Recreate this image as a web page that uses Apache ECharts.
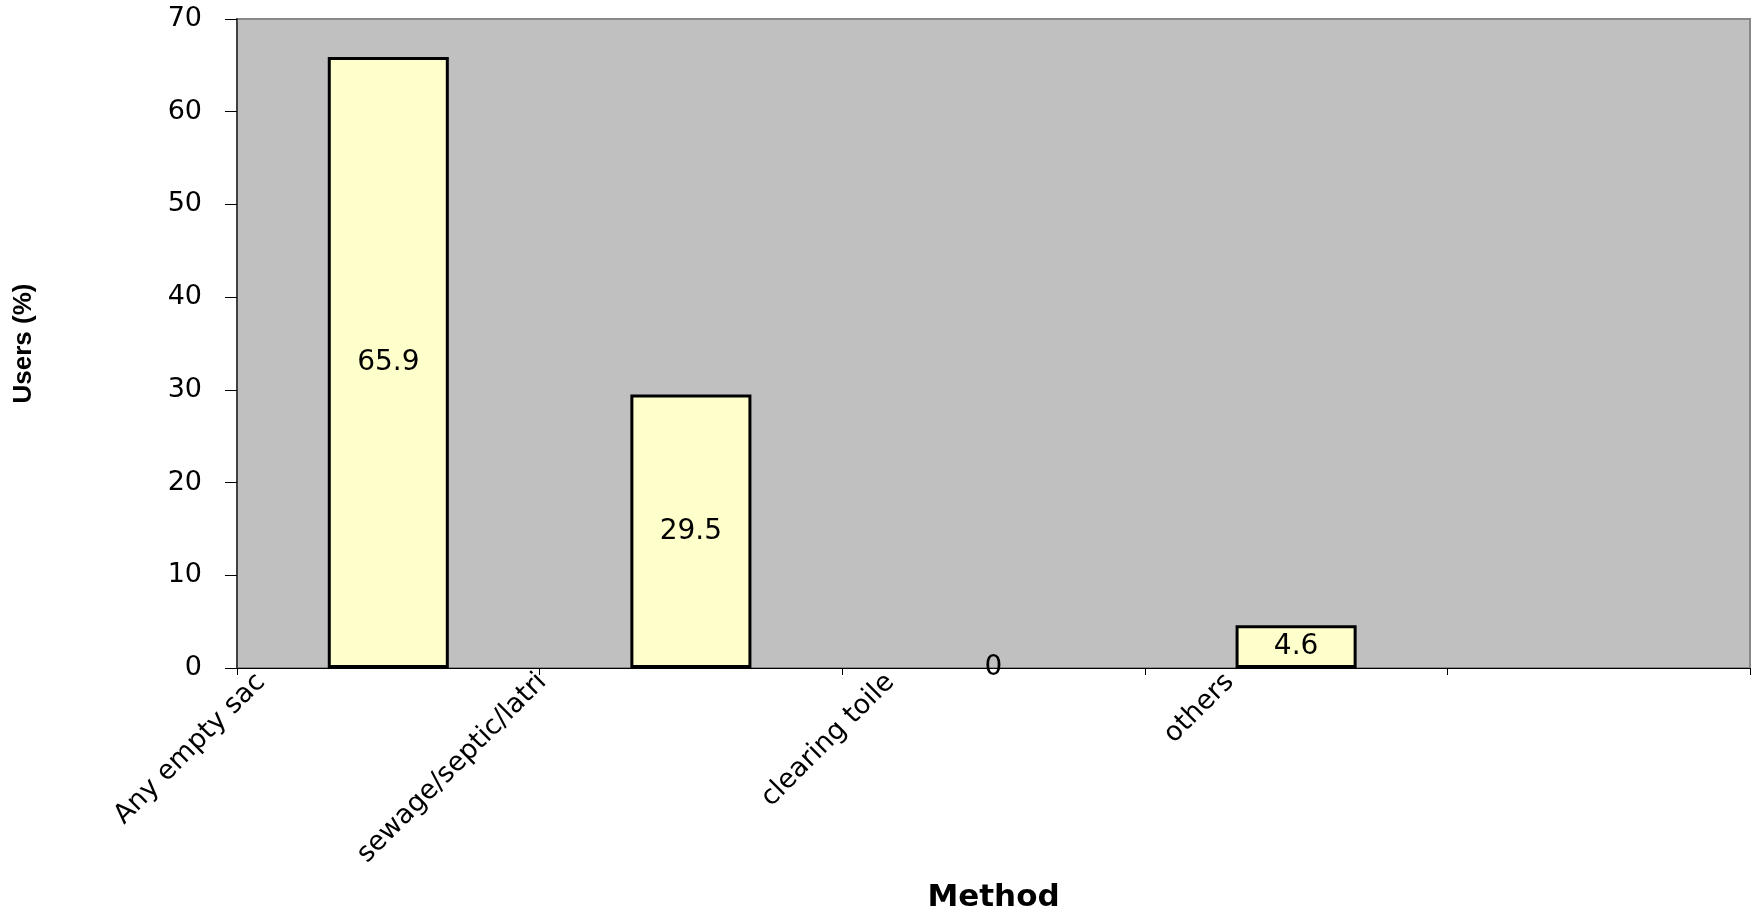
<!DOCTYPE html>
<html>
<head>
<meta charset="utf-8">
<script src="https://cdn.jsdelivr.net/npm/echarts@6/dist/echarts.min.js"></script>
<style>
html,body{margin:0;padding:0;background:#fff;}
#c{width:1758px;height:908px;}
</style>
</head>
<body>
<div id="c"></div>
<script>
const categories = ['Any empty sac', 'sewage/septic/latri', 'clearing toile', 'others', ''];
const usersPct = [65.9, 29.5, 0, 4.6, null];
const yTicks = [0, 10, 20, 30, 40, 50, 60, 70];
const yAxisName = 'Users (%)';
const xAxisName = 'Method';

// per-label horizontal shift of the rotated category labels (px)
const labelShift = [127, 149, 103, 67];
const rich = {};
labelShift.forEach((s, i) => {
  const p = Math.round(s / 1.414);
  rich['a' + i] = { padding: [0, p, 2 * p, 0], fontFamily: 'DejaVu Sans', fontSize: 27, color: '#000' };
});

const chart = echarts.init(document.getElementById('c'), null, { renderer: 'canvas' });
chart.setOption({
  animation: false,
  backgroundColor: '#ffffff',
  grid: {
    left: 237, right: 8, top: 19, bottom: 240,
    outerBoundsMode: 'none',
    containLabel: false,
    show: true, backgroundColor: '#C0C0C0', borderColor: '#888888', borderWidth: 2
  },
  xAxis: {
    type: 'category',
    data: categories,
    name: xAxisName,
    nameLocation: 'middle',
    nameGap: 214,
    nameTextStyle: { fontFamily: 'DejaVu Sans', fontWeight: 'bold', fontSize: 31, color: '#000' },
    axisLine: { show: true, lineStyle: { color: '#000', width: 1 } },
    axisTick: { show: true, length: 7, lineStyle: { color: '#000' } },
    axisLabel: {
      interval: 0,
      rotate: 45,
      margin: 10,
      formatter: (v, i) => v ? '{a' + i + '|' + v + '}' : '',
      rich: rich
    },
    splitLine: { show: false }
  },
  yAxis: {
    type: 'value',
    min: yTicks[0],
    max: yTicks[yTicks.length - 1],
    interval: 10,
    name: yAxisName,
    nameLocation: 'middle',
    nameRotate: 90,
    nameGap: 200,
    nameTextStyle: { fontFamily: 'Liberation Sans', fontWeight: 'bold', fontSize: 26, color: '#000' },
    axisLine: { show: true, lineStyle: { color: '#404040', width: 2 } },
    axisTick: { show: true, length: 12, lineStyle: { color: '#000' } },
    axisLabel: { margin: 35, fontFamily: 'DejaVu Sans', fontSize: 27, color: '#000' },
    splitLine: { show: false }
  },
  series: [{
    type: 'bar',
    barWidth: '40%',
    data: usersPct.map(v => v === 0 ? { value: v, itemStyle: { borderWidth: 0 } } : v),
    itemStyle: { color: '#FFFFCC', borderColor: '#000', borderWidth: 3 },
    label: {
      show: true,
      position: 'inside',
      fontFamily: 'DejaVu Sans',
      fontSize: 28,
      color: '#000',
      formatter: p => String(p.value)
    }
  }]
});
</script>
</body>
</html>
